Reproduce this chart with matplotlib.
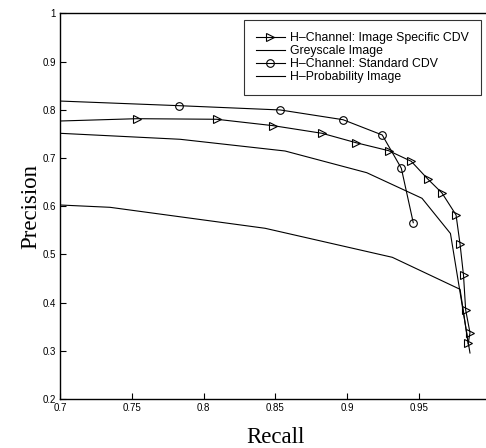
import matplotlib
matplotlib.use("Agg")
import matplotlib.pyplot as plt

# Data
spec_recall = [0.7, 0.7536, 0.8091, 0.8485, 0.8825, 0.9061, 0.9289, 0.9446, 0.9561,
               0.966, 0.9758, 0.9786, 0.981, 0.9825, 0.9855, 0.9843]
spec_prec = [0.7766, 0.7814, 0.7802, 0.7669, 0.7511, 0.7316, 0.715, 0.693, 0.6563,
             0.6273, 0.5817, 0.5209, 0.4562, 0.3846, 0.3375, 0.3155]

grey_recall = [0.7, 0.7836, 0.8567, 0.9136, 0.9521, 0.9719, 0.9855]
grey_prec = [0.7511, 0.7387, 0.7144, 0.6694, 0.6163, 0.5433, 0.2954]

std_recall = [0.7, 0.7829, 0.8534, 0.8971, 0.9244, 0.9377, 0.946]
std_prec = [0.818, 0.8084, 0.7995, 0.7793, 0.7476, 0.6785, 0.5657]

prob_recall = [0.7, 0.7348, 0.8428, 0.9314, 0.9786, 0.9845]
prob_prec = [0.6024, 0.5976, 0.5541, 0.4939, 0.4275, 0.31]

labels = ["H\u2013Channel: Image Specific CDV", "Greyscale Image",
          "H\u2013Channel: Standard CDV", "H\u2013Probability Image"]
xticks = [0.7, 0.75, 0.8, 0.85, 0.9, 0.95]
xticklabels = ["0.7", "0.75", "0.8", "0.85", "0.9", "0.95"]
yticks = [0.2, 0.3, 0.4, 0.5, 0.6, 0.7, 0.8, 0.9, 1.0]
yticklabels = ["0.2", "0.3", "0.4", "0.5", "0.6", "0.7", "0.8", "0.9", "1"]

W, H = 486, 448
fig = plt.figure(figsize=(W / 100, H / 100), dpi=100)
left, bottom, top = 60, 399, 13.3
right = 490.8
ax = fig.add_axes([left / W, 1 - bottom / H, (right - left) / W, (bottom - top) / H])

lw = 0.8
ax.plot(spec_recall, spec_prec, color="black", lw=lw, marker=">", markersize=6,
        markerfacecolor="none", markeredgewidth=0.8, markevery=list(range(1, len(spec_recall))),
        label=labels[0])
ax.plot(grey_recall, grey_prec, color="black", lw=lw, label=labels[1])
ax.plot(std_recall, std_prec, color="black", lw=lw, marker="o", markersize=5.5,
        markerfacecolor="none", markeredgewidth=0.8, markevery=list(range(1, len(std_recall))),
        label=labels[2])
ax.plot(prob_recall, prob_prec, color="black", lw=lw, label=labels[3])

ax.set_xlim(0.7, 1.0)
ax.set_ylim(0.2, 1.0)
ax.set_xticks(xticks)
ax.set_xticklabels(xticklabels)
ax.set_yticks(yticks)
ax.set_yticklabels(yticklabels)
ax.tick_params(direction="in", length=4, width=0.8, labelsize=7, pad=3)
for lab in ax.get_xticklabels() + ax.get_yticklabels():
    lab.set_family("Liberation Sans")
for s in ax.spines.values():
    s.set_linewidth(1.0)

ax.set_xlabel("Recall", family="Liberation Serif", fontsize=16.5, labelpad=10)
ax.set_ylabel("Precision", family="Liberation Serif", fontsize=16.5, labelpad=1)

leg = ax.legend(loc="upper right", bbox_to_anchor=(481 / W, 1 - 20 / H),
                bbox_transform=fig.transFigure, frameon=True, fancybox=False,
                edgecolor="black", prop={"family": "Liberation Sans", "size": 8.8},
                handlelength=2.4, handletextpad=0.4, labelspacing=0.07,
                borderpad=1.0, borderaxespad=0)
leg.get_frame().set_linewidth(0.8)

fig.savefig("out.png", dpi=100)
